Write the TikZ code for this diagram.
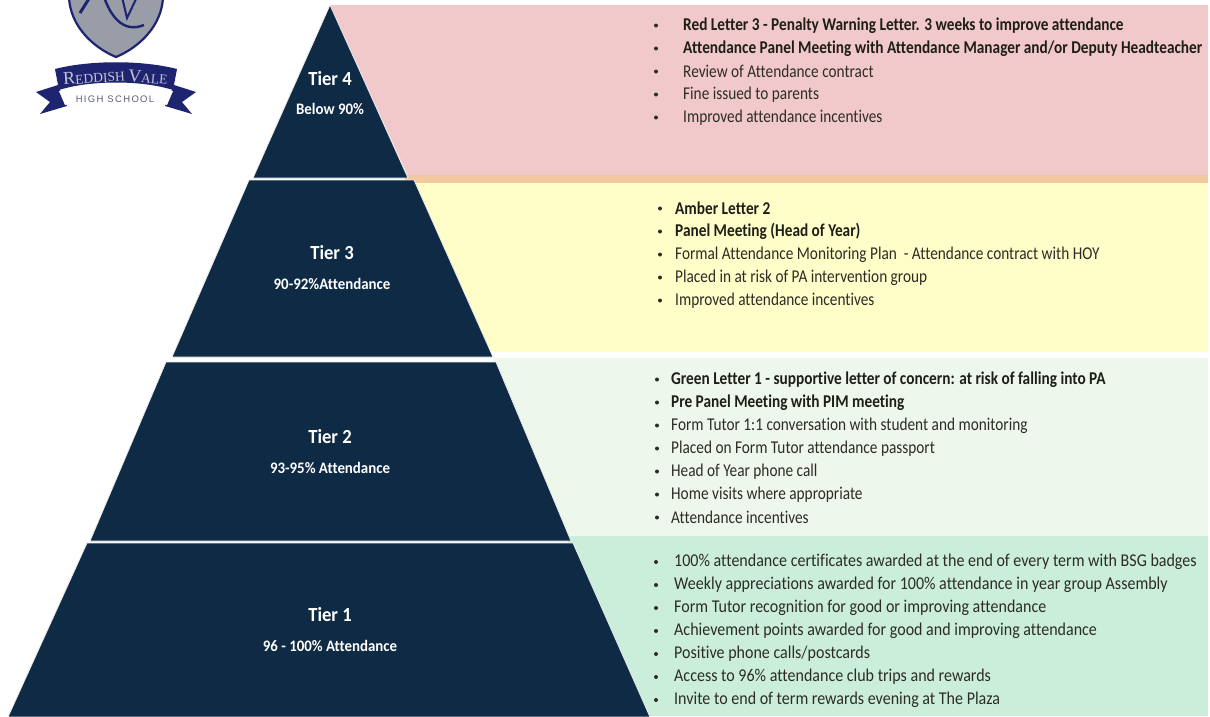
\documentclass[tikz,border=0pt]{standalone}
\usepackage{fontspec}
\setmainfont[Ligatures={NoCommon,NoDiscretionary,NoContextual}]{Carlito}
\newfontfamily\itemfont[FakeStretch=.85,Ligatures={NoCommon,NoDiscretionary,NoContextual}]{Carlito}
\newfontfamily\itemwide[FakeStretch=.89,Ligatures={NoCommon,NoDiscretionary,NoContextual}]{Carlito}
\newfontfamily\labelfont[FakeStretch=.93,Ligatures={NoCommon,NoDiscretionary,NoContextual}]{Carlito}
\newfontfamily\logofont{Liberation Serif}
\newfontfamily\logospaced[LetterSpace=14]{Liberation Sans}
\definecolor{navy}{HTML}{0F2A45}
\definecolor{tfour}{HTML}{F2C9CB}
\definecolor{band}{HTML}{F2C8A0}
\definecolor{tthree}{HTML}{FFFDC8}
\definecolor{ttwo}{HTML}{EEF7EC}
\definecolor{tone}{HTML}{CBEEDB}
\definecolor{ink}{HTML}{2C2C25}
\definecolor{boldink}{HTML}{1E1E18}
\definecolor{crest}{HTML}{1E2470}
\definecolor{shieldg}{HTML}{989DA8}
\definecolor{logotext}{HTML}{C4C6D6}
\definecolor{logosub}{HTML}{5A5F78}
\tikzset{
  x=1pt,y=-1pt,
  tier/.style={fill=navy,draw=white!85!gray,line width=.8pt},
  tiername/.style={text=white,font=\labelfont\fontsize{20}{22}\selectfont\bfseries,anchor=center,inner sep=0},
  tiersub/.style={text=white,font=\labelfont\fontsize{16}{18}\selectfont\bfseries,anchor=center,inner sep=0},
  item/.style={anchor=west,inner sep=0,text=ink,font=\itemfont\fontsize{18}{20}\selectfont},
  bolditem/.style={item,text=boldink,font=\itemfont\fontsize{18}{20}\selectfont\bfseries},
  wideitem/.style={item,font=\itemwide\fontsize{18}{20}\selectfont},
  dot/.style={circle,fill=ink,inner sep=0,minimum size=4pt},
}
\newcommand{\entry}[6]{% name, style, bullet x, text x, y, text
  \node[dot] (#1b) at (#3,#5) {};
  \node[#2] (#1) at (#4,#5) {#6};
}
\begin{document}
\begin{tikzpicture}
\useasboundingbox (0,0) rectangle (1210,716);
\fill[white] (0,0) rectangle (1210,716);
% bands
\fill[tfour] (330,5) -- (1208,5) -- (1208,176) -- (408,176) -- cycle;
\fill[band] (405,175) rectangle (1208,183);
\fill[tthree] (413,183) rectangle (1208,352);
\fill[ttwo] (493,358) rectangle (1208,536);
\fill[tone] (568,536) rectangle (1208,716);
% pyramid
\draw[tier] (330,5) -- (408,178) -- (253,178) -- cycle;
\draw[tier] (249,180) -- (414,180) -- (493,357) -- (172,357) -- cycle;
\draw[tier] (166,362) -- (496,362) -- (571,541) -- (90,541) -- cycle;
\draw[tier] (87,543) -- (573,543) -- (650,717) -- (8,717) -- cycle;
% tier labels
\node[tiername] (t4) at (330,79) {Tier 4};
\node[tiersub] (t4s) at (330,109) {Below 90\%};
\node[tiername] (t3) at (332,253) {Tier 3};
\node[tiersub] (t3s) at (332,284) {90-92\%Attendance};
\node[tiername] (t2) at (330,437) {Tier 2};
\node[tiersub] (t2s) at (330,468) {93-95\% Attendance};
\node[tiername] (t1) at (330,615) {Tier 1};
\node[tiersub] (t1s) at (330,646) {96 - 100\% Attendance};
% tier 4
\entry{a}{bolditem}{656}{683}{25.5}{Red Letter 3 - Penalty Warning Letter. 3 weeks to improve attendance}
\entry{b}{bolditem}{656}{683}{48.5}{Attendance Panel Meeting with Attendance Manager and/or Deputy Headteacher}
\entry{c}{item}{656}{683}{71.5}{Review of Attendance contract}
\entry{d}{item}{656}{683}{94.5}{Fine issued to parents}
\entry{e}{item}{656}{683}{117.5}{Improved attendance incentives}
% tier 3
\entry{f}{bolditem}{660}{675}{208.5}{Amber Letter 2}
\entry{g}{bolditem}{660}{675}{231.5}{Panel Meeting (Head of Year)}
\entry{h}{item}{660}{675}{254.5}{Formal Attendance Monitoring Plan\ \ - Attendance contract with HOY}
\entry{i}{item}{660}{675}{277.5}{Placed in at risk of PA intervention group}
\entry{j}{item}{660}{675}{300.5}{Improved attendance incentives}
% tier 2
\entry{k}{bolditem}{657}{671}{379.5}{Green Letter 1 - supportive letter of concern: at risk of falling into PA}
\entry{l}{bolditem}{657}{671}{402.5}{Pre Panel Meeting with PIM meeting}
\entry{m}{item}{657}{671}{425.5}{Form Tutor 1:1 conversation with student and monitoring}
\entry{n}{item}{657}{671}{448.5}{Placed on Form Tutor attendance passport}
\entry{o}{item}{657}{671}{471.5}{Head of Year phone call}
\entry{p}{item}{657}{671}{494.5}{Home visits where appropriate}
\entry{q}{item}{657}{671}{517.5}{Attendance incentives}
% tier 1
\entry{r}{wideitem}{656}{674}{562}{100\% attendance certificates awarded at the end of every term with BSG badges}
\entry{s}{wideitem}{656}{674}{585}{Weekly appreciations awarded for 100\% attendance in year group Assembly}
\entry{t}{wideitem}{656}{674}{608}{Form Tutor recognition for good or improving attendance}
\entry{u}{wideitem}{656}{674}{631}{Achievement points awarded for good and improving attendance}
\entry{v}{wideitem}{656}{674}{654}{Positive phone calls/postcards}
\entry{w}{wideitem}{656}{674}{677}{Access to 96\% attendance club trips and rewards}
\entry{y}{wideitem}{656}{674}{700}{Invite to end of term rewards evening at The Plaza}
% logo: shield
\fill[shieldg,draw=crest,line width=2.2pt] (69,-3) -- (163,-3) .. controls (162,25) and (140,47) .. (116,57) .. controls (92,47) and (70,25) .. (69,-3) -- cycle;
\draw[crest,line width=3pt] (90,-3) -- (80,13);
\draw[crest,line width=2.4pt] (104,-3) .. controls (110,14) and (122,34) .. (144,25);
\draw[crest,line width=2pt] (122,-3) -- (127,18) -- (137,-3);
% logo: ribbon
\fill[crest] (36,92) -- (58,85) -- (67,106) -- (40,114) -- (50,102) -- cycle;
\fill[crest] (196,92) -- (174,85) -- (165,106) -- (192,114) -- (182,102) -- cycle;
\fill[white] (59,91) .. controls (90,83) and (142,83) .. (173,91) -- (167,105) .. controls (140,96) and (92,96) .. (65,105) -- cycle;
\fill[crest] (55,69) .. controls (90,60) and (142,60) .. (177,69) -- (173,90) .. controls (142,80) and (90,80) .. (59,90) -- cycle;
\node[text=logotext,inner sep=0,rotate=4] (logo1) at (94,77) {\logofont\fontsize{18}{18}\selectfont R\fontsize{13.5}{14}\selectfont EDDISH};
\node[text=logotext,inner sep=0,rotate=-5] (logo3) at (148,77) {\logofont\fontsize{18}{18}\selectfont V\fontsize{13.5}{14}\selectfont ALE};
\node[text=logosub,inner sep=0] (logo2) at (115,99) {\logospaced\fontsize{9.5}{11}\selectfont HIGH SCHOOL};
\end{tikzpicture}
\end{document}
